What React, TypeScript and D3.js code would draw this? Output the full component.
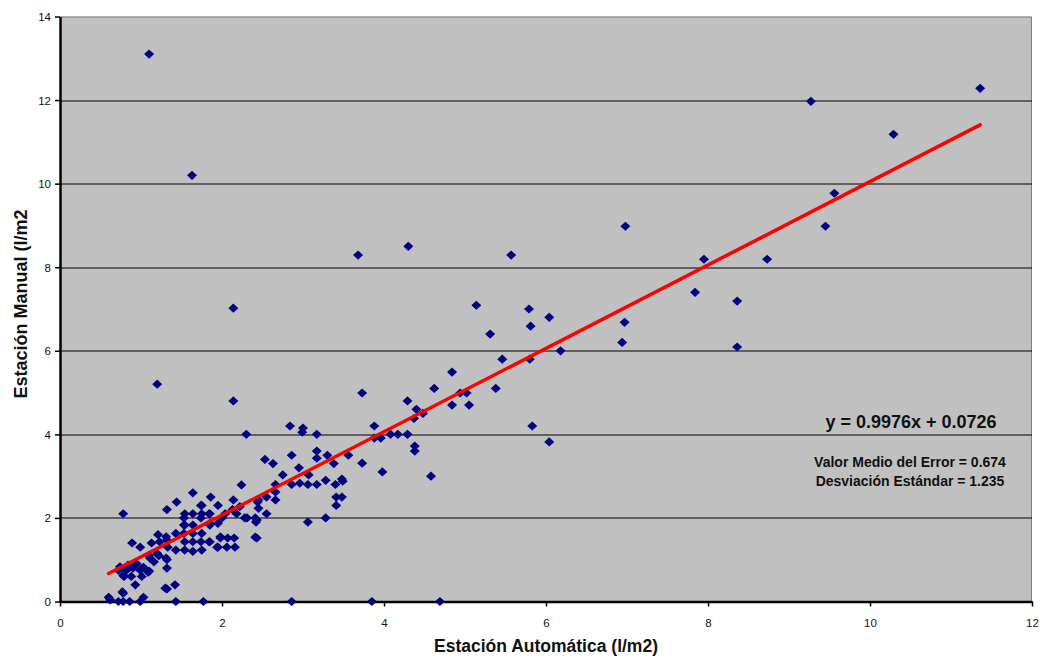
import * as d3 from 'd3';
import React, { useEffect, useRef } from 'react';

// Estación Automática (x) / Estación Manual (y)
const automatica = [
  0.60, 0.62, 0.72, 0.78, 0.86, 0.99, 1.03, 0.78, 0.93, 0.77, 1.30,
  0.72, 0.78, 0.82, 0.88, 0.90, 0.99, 1.01, 1.03, 1.09, 0.84, 0.95, 0.74, 0.79, 1.10,
  0.78, 0.89, 0.99, 1.11, 1.20, 1.13, 1.21, 1.23, 1.31, 1.33, 1.10, 1.22, 1.16,
  1.32, 1.32, 1.32, 1.42, 1.43, 1.77,
  1.32, 1.44, 1.64, 1.86, 1.74, 1.95, 2.13, 1.54, 1.64, 1.84, 2.04, 2.18, 2.28, 2.44,
  2.55, 2.43, 2.22, 1.53, 1.74, 1.85, 1.95, 2.00, 1.64, 1.54, 1.54, 1.74, 1.64, 1.84,
  1.43, 1.32, 1.43, 1.54, 1.75, 1.98, 2.07, 2.15, 1.95, 2.06, 2.16, 2.43, 1.31, 1.53,
  1.53, 1.64, 1.75, 1.85, 1.98, 1.85, 1.75, 1.85, 1.64, 1.75, 1.94,
  2.24, 2.14, 2.31, 2.41, 2.42, 2.41, 2.45, 2.55, 2.66, 2.45, 2.66, 2.66, 2.75, 2.86,
  2.96, 3.06, 3.07, 3.17, 3.28, 3.40, 3.49, 2.95, 2.53, 2.63, 2.86, 3.17, 3.17, 3.30,
  3.38, 3.56, 2.84, 2.99, 3.00, 2.30, 3.17, 3.41, 3.48, 3.41, 3.06, 3.28, 2.86, 3.85,
  4.69, 2.14,
  3.73, 3.98, 3.48, 4.58, 3.88, 3.88, 3.96, 4.08, 4.17, 4.29, 4.38, 4.38, 3.73, 4.29,
  4.40, 4.48, 4.37, 4.62, 4.84, 4.94, 5.02, 4.84, 5.05, 5.38, 5.83, 6.04, 5.46, 5.80,
  6.18, 5.31, 5.81, 6.04, 5.79, 5.14, 3.68, 4.30, 5.57,
  6.98, 9.27, 11.36, 10.29, 9.56, 9.45, 7.95, 8.73, 7.84, 8.36, 6.97, 6.94, 8.36,
  1.10, 1.63, 2.14, 1.20,
];
const manual = [
  0.10, 0.04, 0.00, 0.00, 0.00, 0.00, 0.10, 0.20, 0.40, 0.23, 0.32,
  0.75, 0.63, 0.75, 0.60, 0.80, 0.75, 0.60, 0.82, 0.70, 0.87, 0.90, 0.83, 0.60, 0.73,
  2.10, 1.40, 1.30, 1.04, 1.15, 1.40, 1.60, 1.43, 1.55, 1.30, 1.10, 1.10, 0.95,
  1.00, 0.80, 0.30, 0.40, 0.00, 0.00,
  2.20, 2.38, 2.60, 2.50, 2.30, 2.30, 2.20, 2.10, 2.10, 2.10, 2.10, 2.10, 2.00, 2.38,
  2.10, 1.95, 2.27, 2.00, 2.00, 1.87, 1.87, 2.00, 1.63, 1.83, 1.43, 1.43, 1.20, 1.43,
  1.63, 1.47, 1.23, 1.23, 1.23, 1.52, 1.52, 1.52, 1.30, 1.30, 1.30, 1.52, 1.04, 1.63,
  1.83, 1.83, 1.63, 1.83, 1.55, 1.43, 2.10, 2.10, 1.43, 2.30, 1.30,
  2.79, 2.43, 2.00, 2.00, 1.90, 1.54, 2.43, 2.50, 2.43, 2.23, 2.62, 2.80, 3.03, 2.80,
  2.83, 2.80, 3.03, 2.80, 2.90, 2.80, 2.88, 3.20, 3.40, 3.30, 3.50, 3.60, 3.43, 3.50,
  3.30, 3.50, 4.20, 4.05, 4.15, 4.00, 4.00, 2.50, 2.50, 2.30, 1.90, 2.00, 0.00, 0.00,
  0.00, 4.80,
  3.31, 3.10, 2.93, 3.00, 4.20, 3.91, 3.91, 4.00, 4.00, 4.00, 3.72, 3.60, 4.99, 4.80,
  4.60, 4.50, 4.38, 5.10, 5.49, 4.99, 4.99, 4.70, 4.70, 5.10, 4.20, 3.82, 5.80, 5.80,
  6.00, 6.40, 6.59, 6.80, 7.00, 7.09, 8.29, 8.50, 8.29,
  8.98, 11.97, 12.28, 11.18, 9.77, 8.98, 8.19, 8.19, 7.40, 7.19, 6.68, 6.20, 6.09,
  13.10, 10.20, 7.02, 5.20,
];

// linear trend shown on the chart
const pendiente = 0.9976;
const ordenada = 0.0726;
const ecuacion = 'y = 0.9976x + 0.0726';
const estadisticas = ['Valor Medio del Error = 0.674', 'Desviación Estándar = 1.235'];

const xTicks = [0, 2, 4, 6, 8, 10, 12];
const yTicks = [0, 2, 4, 6, 8, 10, 12, 14];

const W = 1042, H = 658;
const margin = { top: 16.5, right: 10, bottom: 56.5, left: 60 };
const font = '"Liberation Sans", Arial, sans-serif';

function App() {
  const ref = useRef(null);

  useEffect(() => {
    const svg = d3.select(ref.current);
    svg.selectAll('*').remove();

    const width = W - margin.left - margin.right;
    const height = H - margin.top - margin.bottom;

    const x = d3.scaleLinear().domain([0, 12]).range([0, width]);
    const y = d3.scaleLinear().domain([0, 14]).range([height, 0]);

    const g = svg.append('g')
      .attr('transform', 'translate(' + margin.left + ',' + margin.top + ')');

    // plot area
    g.append('rect')
      .attr('width', width).attr('height', height)
      .attr('fill', '#C0C0C0');
    g.append('path')
      .attr('d', `M0,0.5H${width - 0.5}V${height}`)
      .attr('fill', 'none').attr('stroke', '#808080').attr('stroke-width', 1);

    // gridlines
    g.selectAll('.grid').data(yTicks.filter(t => t > 0 && t < 14)).enter()
      .append('line')
      .attr('x1', 0).attr('x2', width)
      .attr('y1', d => Math.round(y(d)) + 0.5).attr('y2', d => Math.round(y(d)) + 0.5)
      .attr('stroke', '#000').attr('stroke-width', 1);

    // axes
    const xAxis = g.append('g')
      .attr('transform', 'translate(0,' + height + ')')
      .call(d3.axisBottom(x).tickValues(xTicks).tickSize(5).tickSizeOuter(0));
    const yAxis = g.append('g')
      .call(d3.axisLeft(y).tickValues(yTicks).tickSize(5).tickSizeOuter(0));
    [xAxis, yAxis].forEach(a => {
      a.select('.domain').attr('stroke', '#000').attr('stroke-width', 2.5);
      a.selectAll('.tick line').attr('stroke', '#000').attr('stroke-width', 1.5);
      a.selectAll('.tick text')
        .attr('font-family', font).attr('font-size', 11.5).attr('fill', '#111');
    });
    xAxis.selectAll('.tick text').attr('dy', '1.5em');
    yAxis.selectAll('.tick text').attr('x', -9).attr('dy', '0.35em');

    // points
    const pts = automatica.map((v, i) => [v, manual[i]]);
    const diamond = 'M0,-4.6L5,0L0,4.6L-5,0Z';
    g.append('g').selectAll('path').data(pts).enter()
      .append('path')
      .attr('d', diamond)
      .attr('transform', d => 'translate(' + x(d[0]) + ',' + y(d[1]) + ')')
      .attr('fill', '#000080');

    // trendline
    const ext = d3.extent(automatica);
    g.append('path')
      .datum(ext)
      .attr('d', d3.line().x(d => x(d)).y(d => y(pendiente * d + ordenada)))
      .attr('stroke', '#FF0000').attr('stroke-width', 3.5)
      .attr('stroke-linecap', 'round').attr('fill', 'none');

    // equation + stats
    g.append('text')
      .attr('x', 911 - margin.left).attr('y', 428 - margin.top)
      .attr('text-anchor', 'middle')
      .attr('font-family', font).attr('font-size', 18).attr('font-weight', 'bold')
      .attr('fill', '#111')
      .text(ecuacion);
    g.selectAll('.stat').data(estadisticas).enter()
      .append('text')
      .attr('x', 910 - margin.left).attr('y', (d, i) => 467 + i * 19 - margin.top)
      .attr('text-anchor', 'middle')
      .attr('font-family', font).attr('font-size', 14).attr('font-weight', 'bold')
      .attr('fill', '#111')
      .text(d => d);

    // axis titles
    svg.append('text')
      .attr('x', 546).attr('y', 652)
      .attr('text-anchor', 'middle')
      .attr('font-family', font).attr('font-size', 17.5).attr('font-weight', 'bold')
      .attr('fill', '#111')
      .text('Estación Automática (l/m2)');
    svg.append('text')
      .attr('transform', 'translate(27,' + 304 + ') rotate(-90)')
      .attr('text-anchor', 'middle')
      .attr('font-family', font).attr('font-size', 18).attr('font-weight', 'bold')
      .attr('fill', '#111')
      .text('Estación Manual (l/m2');
  }, []);

  return (
    <div style={{ position: 'absolute', left: 0, top: 0 }}>
      <svg ref={ref} width={W} height={H} style={{ display: 'block', background: '#fff' }} />
    </div>
  );
}

export default App;
